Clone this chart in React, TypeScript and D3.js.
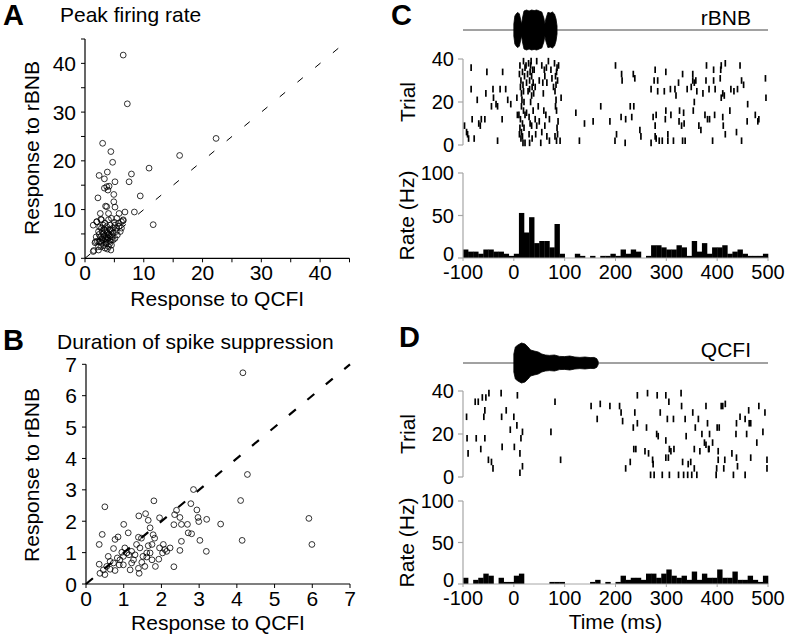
import React from 'react';
import * as d3 from 'd3';

const FONT = '"Liberation Sans", Arial, Helvetica, sans-serif';

// ---------- Panel A: peak firing rate (x = QCFI, y = rBNB) ----------
const peakTicks = [0, 5, 10, 15, 20, 25, 30, 35, 40, 45];
const peakLabels = [0, 10, 20, 30, 40];
const peakPoints: [number, number][] = [
  [6.5, 41.7], [7.2, 31.7], [3.0, 23.6], [4.4, 21.9], [4.7, 19.7], [2.4, 17.0], [3.8, 17.7], [3.3, 16.3],
  [5.1, 15.7], [7.5, 15.7], [7.9, 17.3], [10.9, 18.5], [16.1, 21.1], [22.3, 24.6], [2.2, 12.4], [3.3, 14.4],
  [3.7, 14.7], [4.1, 14.8], [3.9, 14.0], [4.9, 13.1], [4.9, 11.6], [5.1, 10.5], [3.7, 10.6], [3.5, 10.7],
  [2.6, 9.2], [4.0, 9.2], [5.8, 9.2], [6.8, 9.5], [9.4, 12.8], [8.4, 9.5], [11.6, 6.9], [6.5, 7.7],
  [1.4, 6.8], [2.0, 7.5], [2.7, 8.0], [1.5, 1.6], [2.3, 1.7], [1.8, 3.4], [2.4, 3.4],
  [1.4, 1.4], [2.3, 2.4], [1.7, 3.2], [2.8, 3.1], [3.4, 2.1], [4.0, 2.4], [4.5, 2.7], [4.8, 3.8],
  [2.6, 4.4], [3.1, 5.1], [2.3, 5.5], [2.8, 6.2], [3.7, 6.5], [4.3, 6.8], [5.1, 6.8], [5.7, 7.2],
  [6.2, 7.5], [6.5, 7.9], [5.4, 6.2], [6.0, 5.5], [4.5, 5.5], [4.0, 4.8], [3.7, 3.8], [3.1, 3.8],
  [2.6, 3.5], [4.3, 4.5], [4.8, 5.2], [3.4, 5.8], [4.0, 7.9], [4.5, 8.2], [2.0, 7.5], [2.8, 7.9],
  [3.6, 4.5], [4.2, 3.5], [3.2, 2.6], [3.8, 1.9], [4.4, 1.7], [5.1, 4.1], [5.5, 4.8], [2.7, 2.4],
  [3.0, 4.3], [2.4, 4.9], [4.3, 5.8], [4.8, 6.2], [3.4, 7.2], [5.4, 8.2], [6.2, 6.2], [1.9, 4.4],
  [2.1, 3.5], [3.7, 5.5], [3.1, 6.8], [4.5, 3.8], [4.2, 3.0], [3.6, 3.0], [5.3, 5.5], [5.8, 6.6],
  [2.9, 5.5], [3.5, 4.0], [3.9, 4.2], [4.1, 5.0], [3.3, 4.6], [3.8, 5.2], [4.6, 4.4], [2.9, 3.9],
  [3.6, 3.3], [4.2, 6.0], [5.0, 7.4], [3.2, 6.0], [2.5, 6.4],
];

// ---------- Panel B: duration of spike suppression ----------
const durTicks = [0, 1, 2, 3, 4, 5, 6, 7];
const durPoints: [number, number][] = [
  [4.16, 6.73], [4.28, 3.49], [4.10, 2.66], [4.14, 1.39], [5.91, 2.09], [5.99, 1.26], [3.57, 1.91],
  [2.85, 3.01], [2.78, 2.56], [2.94, 2.36], [2.97, 2.12], [2.99, 1.99], [3.20, 2.06], [3.02, 1.39],
  [3.19, 1.04], [2.69, 1.90], [2.71, 1.63], [2.80, 1.60], [2.53, 1.90], [2.53, 1.36], [2.49, 1.07],
  [2.49, 2.12], [2.40, 2.35], [2.35, 2.21], [2.33, 1.89], [2.33, 0.55], [1.80, 2.65], [1.58, 2.24],
  [1.65, 2.03], [1.70, 1.79], [1.95, 2.11], [1.78, 1.57], [1.82, 1.46], [1.75, 1.26], [1.65, 1.22],
  [1.43, 1.15], [1.40, 2.17], [1.39, 1.49], [1.47, 1.46], [1.12, 1.63], [1.00, 1.90], [0.85, 1.50],
  [0.77, 1.42], [0.50, 2.46], [0.43, 1.58], [0.35, 1.26], [1.95, 1.15], [2.05, 1.26], [2.09, 1.10],
  [2.14, 1.04], [2.23, 1.15], [2.03, 0.99], [1.93, 0.79], [1.84, 0.56], [1.61, 0.86], [1.56, 0.56],
  [1.39, 0.50], [1.41, 0.34], [1.17, 0.45], [1.03, 1.15], [1.08, 0.99], [1.21, 1.04], [1.30, 0.93],
  [1.26, 0.77], [0.99, 0.88], [0.90, 0.77], [0.83, 0.83], [0.88, 0.61], [0.73, 0.67], [0.77, 0.43],
  [0.59, 0.88], [0.55, 0.56], [0.64, 0.47], [0.50, 0.30], [0.37, 0.34], [0.35, 0.63], [0.46, 0.45],
  [1.21, 0.67], [1.48, 0.69], [1.61, 0.99], [1.75, 0.77], [1.70, 0.99], [0.99, 0.61], [1.14, 0.93],
  [0.95, 1.01], [1.34, 1.26], [1.51, 0.88], [0.73, 1.13], [0.64, 0.72],
];

// ---------- Panels C & D ----------
const timeTicks = [-100, 0, 100, 200, 300, 400, 500];
const trialTicks = [0, 20, 40];
const rateTicks = [0, 50, 100];
const binStart = -100;
const binWidth = 10;

const rbnbRate = [
  10, 7.5, 7.5, 5, 10, 10, 7.5, 7.5, 5, 2.5,
  5, 53, 30, 48, 17.5, 20, 20, 12.5, 40, 5,
  0, 0, 5, 2.5, 0, 2.5, 0, 2.5, 2.5, 5,
  2.5, 10, 5, 10, 7.5, 0, 2.5, 15, 15, 12.5,
  10, 10, 15, 12.5, 2.5, 20, 7.5, 17.5, 5, 12.5,
  12.5, 15, 5, 7.5, 10, 5, 2.5, 2.5, 2.5, 5,
];
const qcfiRate = [
  7.5, 0, 5, 7.5, 12.5, 10, 0, 7.5, 2.5, 2.5,
  10, 12.5, 0, 0, 0, 0, 0, 2.5, 2.5, 2.5,
  0, 0, 0, 0, 0, 2.5, 5, 0, 2.5, 0,
  2.5, 10, 5, 7.5, 7.5, 5, 12.5, 12.5, 7.5, 12.5,
  17.5, 10, 7.5, 10, 5, 15, 5, 12.5, 7.5, 7.5,
  17.5, 7.5, 7.5, 15, 5, 5, 10, 5, 2.5, 10,
];

// stimulus envelopes: [time ms, relative amplitude]
const rbnbEnvelope: [number, number][] = [
  [0, 0.3], [2, 0.7], [5, 0.82], [8, 0.88], [11, 0.8], [14, 0.45], [15.5, 0.3], [17, 0.6], [20, 0.95],
  [25, 1.0], [30, 0.95], [35, 1.0], [40, 0.97], [45, 1.0], [50, 0.95], [55, 0.9], [59, 0.6], [61, 0.3],
  [63, 0.55], [67, 0.88], [72, 0.85], [76, 0.9], [80, 0.8], [83, 0.55], [85, 0.2],
];
const qcfiEnvelope: [number, number][] = [
  [0, 0.45], [3, 0.8], [8, 0.9], [15, 1.0], [22, 0.95], [28, 0.8], [33, 0.65], [40, 0.6], [48, 0.55],
  [55, 0.45], [62, 0.4], [70, 0.38], [80, 0.4], [90, 0.33], [100, 0.32], [110, 0.35], [120, 0.3],
  [130, 0.28], [140, 0.3], [150, 0.27], [158, 0.28], [163, 0.22], [166, 0.08],
];

// spikes: [time ms, trial]
const rbnbSpikes: [number, number][] = [
  [-97, 9], [-93, 6], [-91, 5], [-89, 3], [-84, 36], [-84, 26], [-82, 12], [-78, 3], [-72, 21], [-69, 10],
  [-66, 9], [-64, 12], [-57, 12], [-55, 24], [-53, 34], [-44, 18], [-41, 26], [-40, 22], [-35, 19], [-32, 2],
  [-32, 18], [-27, 26], [-23, 12], [-22, 34], [-16, 26], [-12, 21], [-6, 19], [6, 22], [7, 14],
  [19, 39], [17, 34], [15, 18], [19, 16], [13, 12], [17, 10], [10, 14], [15, 6], [17, 4], [11, 5],
  [12, 37], [14, 30], [18, 28], [15, 24], [12, 8], [11, 33], [13, 27], [16, 21], [18, 1], [14, 3], [19, 25],
  [22, 36], [21, 32], [25, 29], [29, 38], [25, 15], [20, 8], [22, 14], [22, 1], [28, 25], [24, 37], [27, 33], [20, 20],
  [32, 34], [35, 32], [38, 29], [31, 26], [35, 23], [32, 10], [35, 9], [30, 5], [33, 37], [36, 27], [30, 13],
  [38, 16], [31, 30], [34, 39], [37, 35], [33, 20], [36, 3], [39, 24], [31, 1],
  [40, 35], [42, 27], [45, 39], [42, 12], [45, 9], [43, 5], [48, 18],
  [57, 29], [50, 11], [59, 16], [53, 1], [50, 30], [55, 37], [58, 24], [55, 6],
  [60, 35], [61, 32], [65, 29], [68, 39], [63, 14], [61, 9], [64, 36], [65, 4],
  [73, 35], [78, 27], [70, 12], [70, 2], [75, 31],
  [84, 34], [86, 30], [82, 32], [82, 18], [84, 16], [81, 4], [86, 5], [84, 2], [80, 38], [85, 36],
  [81, 25], [83, 21], [87, 11], [85, 8], [88, 37], [83, 28],
  [93, 22], [91, 2],
  [122, 15], [139, 10], [129, 2],
  [200, 37], [379, 37], [408, 37], [416, 38], [445, 37], [212, 33], [235, 33], [278, 35], [299, 34], [332, 33],
  [352, 33], [393, 35], [407, 35], [213, 30], [238, 31], [276, 30], [283, 30], [352, 30], [358, 30], [378, 30],
  [393, 30], [406, 31], [448, 30], [495, 31], [324, 29], [341, 26], [349, 27], [355, 29], [270, 26], [283, 25],
  [296, 25], [308, 26], [317, 26], [319, 23], [360, 25], [372, 24], [384, 26], [396, 26], [411, 24], [427, 26],
  [433, 25], [440, 26], [452, 28], [408, 22], [414, 23], [460, 19], [496, 22], [171, 18], [229, 18], [236, 18],
  [355, 20], [425, 16], [156, 11], [189, 11], [211, 13], [220, 12], [232, 13], [274, 13], [280, 14], [299, 16],
  [298, 12], [309, 14], [326, 16], [334, 15], [325, 11], [330, 9], [335, 10], [353, 16], [376, 14], [381, 12],
  [385, 12], [395, 14], [411, 13], [475, 14], [480, 11], [459, 11], [278, 9], [248, 7], [250, 4], [364, 9],
  [368, 7], [412, 9], [438, 6], [416, 5], [448, 2], [303, 5], [202, 5], [199, 2], [219, 1], [270, 1],
  [280, 3], [286, 2], [292, 2], [278, 4], [303, 2], [314, 2], [332, 2], [337, 2], [391, 2], [482, 12],
];
const qcfiSpikes: [number, number][] = [
  [-76, 35], [-70, 35], [-62, 37], [-55, 37], [-49, 39], [-25, 39], [7, 38], [81, 35], [152, 33], [170, 34],
  [164, 27], [-57, 31], [-93, 28], [-59, 28], [-24, 28], [-15, 31], [0, 28], [6, 24], [-7, 22], [17, 21],
  [73, 21], [-92, 18], [-74, 18], [-57, 18], [14, 18], [-65, 13], [-23, 14], [1, 14], [-90, 11], [12, 11],
  [-50, 8], [-44, 7], [-41, 4], [17, 5], [12, 2], [92, 8],
  [243, 38], [263, 39], [282, 38], [299, 38], [305, 35], [329, 39], [330, 33], [189, 33], [208, 33], [211, 30],
  [238, 30], [214, 26], [243, 25], [235, 23], [261, 23], [288, 30], [302, 27], [314, 27], [337, 27], [352, 30],
  [363, 27], [378, 33], [357, 23], [381, 25], [400, 23], [404, 23], [408, 33], [411, 33], [416, 34], [445, 28],
  [455, 27], [463, 25], [466, 25], [462, 31], [482, 33], [494, 30], [438, 25], [281, 20], [284, 19], [299, 17],
  [339, 19], [385, 20], [370, 20], [437, 20], [458, 20], [490, 21], [478, 16], [375, 16], [378, 15], [384, 13],
  [391, 16], [236, 13], [240, 13], [258, 12], [265, 11], [299, 9], [306, 13], [309, 12], [315, 13], [304, 9],
  [355, 13], [366, 12], [383, 13], [402, 12], [429, 11], [438, 9], [466, 9], [498, 8], [273, 8], [274, 6],
  [332, 7], [343, 6], [348, 7], [402, 8], [415, 8], [440, 5], [229, 7], [220, 4], [355, 4], [399, 4],
  [413, 4], [498, 4], [269, 1], [276, 1], [292, 1], [306, 1], [324, 1], [334, 1], [342, 1], [350, 1],
  [360, 1], [398, 1], [432, 1], [455, 1],
];

// ---------- components ----------
type ScatterProps = {
  x0: number; x1: number; y0: number; y1: number; max: number;
  ticks: number[]; labels: number[]; points: [number, number][];
  dash: string; dashWidth: number; xTitleY: number; yTitleCenter: number;
};

function Scatter(p: ScatterProps) {
  const x = d3.scaleLinear().domain([0, p.max]).range([p.x0, p.x1]);
  const y = d3.scaleLinear().domain([0, p.max]).range([p.y0, p.y1]);
  return (
    <g>
      <line x1={x(0)} x2={x(p.max)} y1={p.y0} y2={p.y0} stroke="#000" strokeWidth={1.2} />
      <line x1={p.x0} x2={p.x0} y1={y(0)} y2={y(p.max)} stroke="#000" strokeWidth={1.2} />
      {p.ticks.map((t) => (
        <g key={t}>
          <line x1={x(t)} x2={x(t)} y1={p.y0} y2={p.y0 + 4} stroke="#000" strokeWidth={1} />
          <line x1={p.x0 - 4} x2={p.x0} y1={y(t)} y2={y(t)} stroke="#000" strokeWidth={1} />
        </g>
      ))}
      {p.labels.map((t) => (
        <g key={'l' + t}>
          <text x={x(t)} y={p.y0 + 22} textAnchor="middle" fontSize={21}>{t}</text>
          <text x={p.x0 - 9} y={y(t) + 7.5} textAnchor="end" fontSize={21}>{t}</text>
        </g>
      ))}
      <line x1={x(0)} y1={y(0)} x2={x(p.max)} y2={y(p.max)} stroke="#000"
        strokeWidth={p.dashWidth} strokeDasharray={p.dash} />
      {p.points.map(([a, b], i) => (
        <circle key={i} cx={x(a)} cy={y(b)} r={2.9} fill="none" stroke="#000" strokeWidth={0.8} />
      ))}
      <text x={(p.x0 + p.x1) / 2} y={p.xTitleY} textAnchor="middle" fontSize={21}>Response to QCFI</text>
      <text transform={`translate(39,${p.yTitleCenter}) rotate(-90)`} textAnchor="middle" fontSize={21}>
        Response to rBNB
      </text>
    </g>
  );
}

type SpikeProps = {
  stimY: number; envelope: [number, number][]; name: string; nameY: number;
  rasterTop: number; rasterBottom: number; spikes: [number, number][];
  histTop: number; histBottom: number; rates: number[]; showTimeTitle: boolean;
};

const xTime = d3.scaleLinear().domain([-100, 500]).range([463, 768]);

function SpikePanel(p: SpikeProps) {
  const yTrial = d3.scaleLinear().domain([0, 40]).range([p.rasterBottom, p.rasterTop]);
  const yRate = d3.scaleLinear().domain([0, 100]).range([p.histBottom, p.histTop]);
  const amp = d3.scaleLinear().domain([0, 1]).range([0, 20]);
  const area = d3.area<[number, number]>()
    .x((d) => xTime(d[0]))
    .y0((d) => p.stimY + amp(d[1]))
    .y1((d) => p.stimY - amp(d[1]));
  const bw = xTime(binWidth) - xTime(0);
  const axisGray = '#a6a6a6';
  return (
    <g>
      <line x1={xTime(-100)} x2={xTime(500)} y1={p.stimY} y2={p.stimY} stroke="#444" strokeWidth={1} />
      <path d={area(p.envelope) || ''} fill="#000" stroke="#000" strokeWidth={0.8} />
      <text x={751} y={p.nameY} textAnchor="end" fontSize={21}>{p.name}</text>

      {/* raster */}
      <line x1={463} x2={463} y1={yTrial(0)} y2={yTrial(40)} stroke={axisGray} strokeWidth={1.2} />
      {trialTicks.map((t) => (
        <g key={t}>
          <line x1={458} x2={463} y1={yTrial(t)} y2={yTrial(t)} stroke={axisGray} strokeWidth={1.2} />
          <text x={454} y={yTrial(t) + 7} textAnchor="end" fontSize={20}>{t}</text>
        </g>
      ))}
      {p.spikes.map(([t, tr], i) => (
        <line key={i} x1={xTime(t)} x2={xTime(t)} y1={yTrial(tr) - 3.3} y2={yTrial(tr) + 3.3}
          stroke="#000" strokeWidth={1.7} />
      ))}
      <text transform={`translate(415,${(yTrial(0) + yTrial(40)) / 2}) rotate(-90)`} textAnchor="middle" fontSize={21}>
        Trial
      </text>

      {/* histogram */}
      {p.rates.map((r, i) => {
        const t = binStart + i * binWidth;
        return r > 0 ? (
          <rect key={i} x={xTime(t)} width={bw + 0.3} y={yRate(r)} height={yRate(0) - yRate(r)} fill="#000" />
        ) : null;
      })}
      <line x1={463} x2={463} y1={yRate(0)} y2={yRate(100)} stroke={axisGray} strokeWidth={1.2} />
      <line x1={xTime(-100)} x2={xTime(500)} y1={yRate(0)} y2={yRate(0)} stroke={axisGray} strokeWidth={1} />
      {rateTicks.map((t) => (
        <g key={t}>
          <line x1={458} x2={463} y1={yRate(t)} y2={yRate(t)} stroke={axisGray} strokeWidth={1.2} />
          <text x={454} y={yRate(t) + (t === 0 ? 3 : 7)} textAnchor="end" fontSize={20}>{t}</text>
        </g>
      ))}
      {timeTicks.map((t) => (
        <g key={'x' + t}>
          <line x1={xTime(t)} x2={xTime(t)} y1={yRate(0)} y2={yRate(0) + 3} stroke={axisGray} strokeWidth={1} />
          <text x={xTime(t)} y={yRate(0) + 21} textAnchor="middle" fontSize={20}>{t}</text>
        </g>
      ))}
      <text transform={`translate(414,${(yRate(0) + yRate(100)) / 2}) rotate(-90)`} textAnchor="middle" fontSize={21}>
        Rate (Hz)
      </text>
      {p.showTimeTitle && (
        <text x={(xTime(-100) + xTime(500)) / 2} y={yRate(0) + 45} textAnchor="middle" fontSize={21}>
          Time (ms)
        </text>
      )}
    </g>
  );
}

export default function App() {
  return (
    <svg width={785} height={637} viewBox="0 0 785 637"
      style={{ position: 'absolute', left: 0, top: 0, background: '#fff' }}
      fontFamily={FONT} fill="#000">
      <rect width={785} height={637} fill="#fff" />
      <text x={3} y={25} fontSize={29} fontWeight="bold">A</text>
      <text x={60} y={22} fontSize={21}>Peak firing rate</text>
      <Scatter x0={85} x1={349.5} y0={258.3} y1={39} max={45} ticks={peakTicks} labels={peakLabels}
        points={peakPoints} dash="7,16" dashWidth={1} xTitleY={306} yTitleCenter={148} />

      <text x={3} y={350} fontSize={29} fontWeight="bold">B</text>
      <text x={57} y={349} fontSize={21}>Duration of spike suppression</text>
      <Scatter x0={86} x1={350} y0={584} y1={364.3} max={7} ticks={durTicks} labels={durTicks}
        points={durPoints} dash="9,15" dashWidth={2.2} xTitleY={630} yTitleCenter={475} />

      <text x={391} y={25} fontSize={29} fontWeight="bold">C</text>
      <SpikePanel stimY={30} envelope={rbnbEnvelope} name="rBNB" nameY={25}
        rasterTop={59} rasterBottom={145} spikes={rbnbSpikes}
        histTop={173} histBottom={258} rates={rbnbRate} showTimeTitle={false} />

      <text x={399} y={347} fontSize={29} fontWeight="bold">D</text>
      <SpikePanel stimY={363} envelope={qcfiEnvelope} name="QCFI" nameY={357}
        rasterTop={391} rasterBottom={477} spikes={qcfiSpikes}
        histTop={501} histBottom={584} rates={qcfiRate} showTimeTitle={true} />
    </svg>
  );
}
